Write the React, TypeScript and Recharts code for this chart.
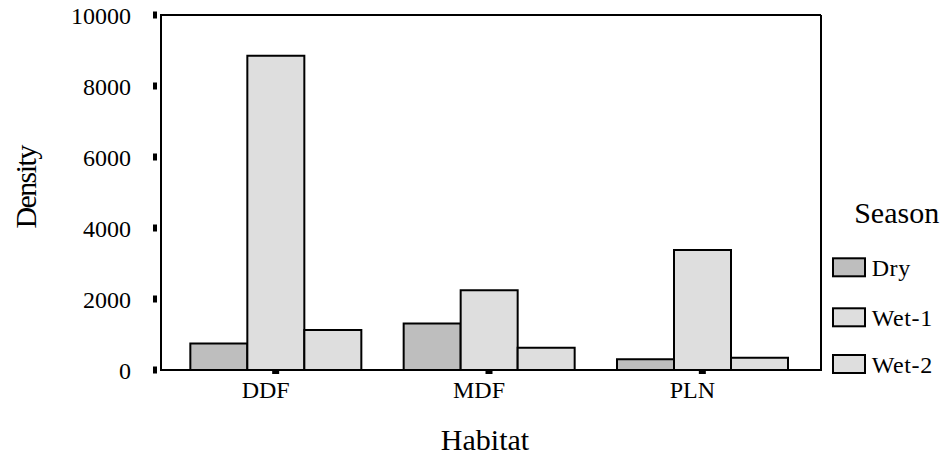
import React from 'react';
import { BarChart, Bar, XAxis, YAxis, Legend, CartesianGrid } from 'recharts';

// Habitat categories and seasonal density values
const habitats = ['DDF', 'MDF', 'PLN'];
const dry = [745, 1310, 300];
const wet1 = [8850, 2250, 3380];
const wet2 = [1125, 625, 345];
const yTicks = [0, 2000, 4000, 6000, 8000, 10000];

const seasons = [
  { key: 'dry', name: 'Dry', fill: '#bebebe' },
  { key: 'wet1', name: 'Wet-1', fill: '#dedede' },
  { key: 'wet2', name: 'Wet-2', fill: '#dedede' },
];

const data = habitats.map((h, i) => ({
  habitat: h,
  dry: dry[i],
  wet1: wet1[i],
  wet2: wet2[i],
}));

const serif = { fontFamily: "'Liberation Serif', 'Times New Roman', Times, serif" };

const XTick = (props: any) => {
  const { x, y, payload } = props;
  return (
    <g>
      <rect x={x - 3.5} y={y} width={7} height={4} fill="#000" />
      <text x={x - 10} y={y + 28} textAnchor="middle" style={serif} fontSize={24} fill="#000">
        {payload.value}
      </text>
    </g>
  );
};

const YTick = (props: any) => {
  const { x, y, payload } = props;
  return (
    <g>
      <rect x={x - 8} y={y - 3.5} width={4} height={7} fill="#000" />
      <text x={x - 30} y={y + 8.5} textAnchor="end" style={serif} fontSize={24} fill="#000">
        {payload.value}
      </text>
    </g>
  );
};

const SeasonLegend = () => (
  <svg width={116} height={200} style={{ display: 'block', overflow: 'visible' }}>
    <text x={70.7} y={33.3} textAnchor="middle" style={serif} fontSize={30} fill="#000">
      Season
    </text>
    {seasons.map((s, i) => {
      const top = [68.3, 118.3, 165][i];
      return (
        <g key={s.key}>
          <rect x={7} y={top} width={32} height={18} fill={s.fill} stroke="#000" strokeWidth={2} />
          <text x={45.7} y={top + 17.7} style={serif} fontSize={24} letterSpacing={0.6} fill="#000">
            {s.name}
          </text>
        </g>
      );
    })}
  </svg>
);

const boxLine = { stroke: '#000', strokeWidth: 2, strokeLinecap: 'square' as const };

export default function App() {
  return (
    <div style={{ position: 'absolute', left: 0, top: 0 }}>
      <BarChart
        width={942}
        height={457}
        data={data}
        margin={{ top: 15, right: 121, bottom: 0, left: 0 }}
        barCategoryGap="10%"
        barGap={0}
        style={serif}
      >
        {/* top and right edges of the plot frame */}
        <CartesianGrid
          stroke="#000"
          strokeWidth={2}
          strokeDasharray=""
          horizontalCoordinatesGenerator={({ offset }: any) => [offset.top]}
          verticalCoordinatesGenerator={({ offset }: any) => [offset.left + offset.width]}
        />
        <XAxis
          dataKey="habitat"
          height={87}
          padding={{ left: 8, right: 12 }}
          axisLine={boxLine}
          tickLine={false}
          tickSize={0}
          tickMargin={0}
          tick={<XTick />}
          interval={0}
          label={{
            content: ({ viewBox }: any) => (
              <text
                x={viewBox.x + viewBox.width / 2 - 6}
                y={450}
                textAnchor="middle"
                style={serif}
                fontSize={30}
                fill="#000"
              >
                Habitat
              </text>
            ),
          }}
        />
        <YAxis
          width={161}
          domain={[0, 10000]}
          ticks={yTicks}
          interval={0}
          axisLine={boxLine}
          tickLine={false}
          tickSize={0}
          tickMargin={0}
          tick={<YTick />}
          label={{
            content: ({ viewBox }: any) => {
              const cy = viewBox.y + viewBox.height / 2;
              return (
                <text
                  x={36}
                  y={cy - 5}
                  transform={`rotate(-90 36 ${cy - 5})`}
                  textAnchor="middle"
                  style={serif}
                  fontSize={30}
                  letterSpacing={-1.6}
                  fill="#000"
                >
                  Density
                </text>
              );
            },
          }}
        />
        <Legend
          content={<SeasonLegend />}
          wrapperStyle={{ position: 'absolute', left: 826, top: 190, width: 116, height: 0 }}
        />
        {seasons.map((s) => (
          <Bar
            key={s.key}
            dataKey={s.key}
            name={s.name}
            fill={s.fill}
            stroke="#000"
            strokeWidth={2}
            isAnimationActive={false}
          />
        ))}
      </BarChart>
    </div>
  );
}
